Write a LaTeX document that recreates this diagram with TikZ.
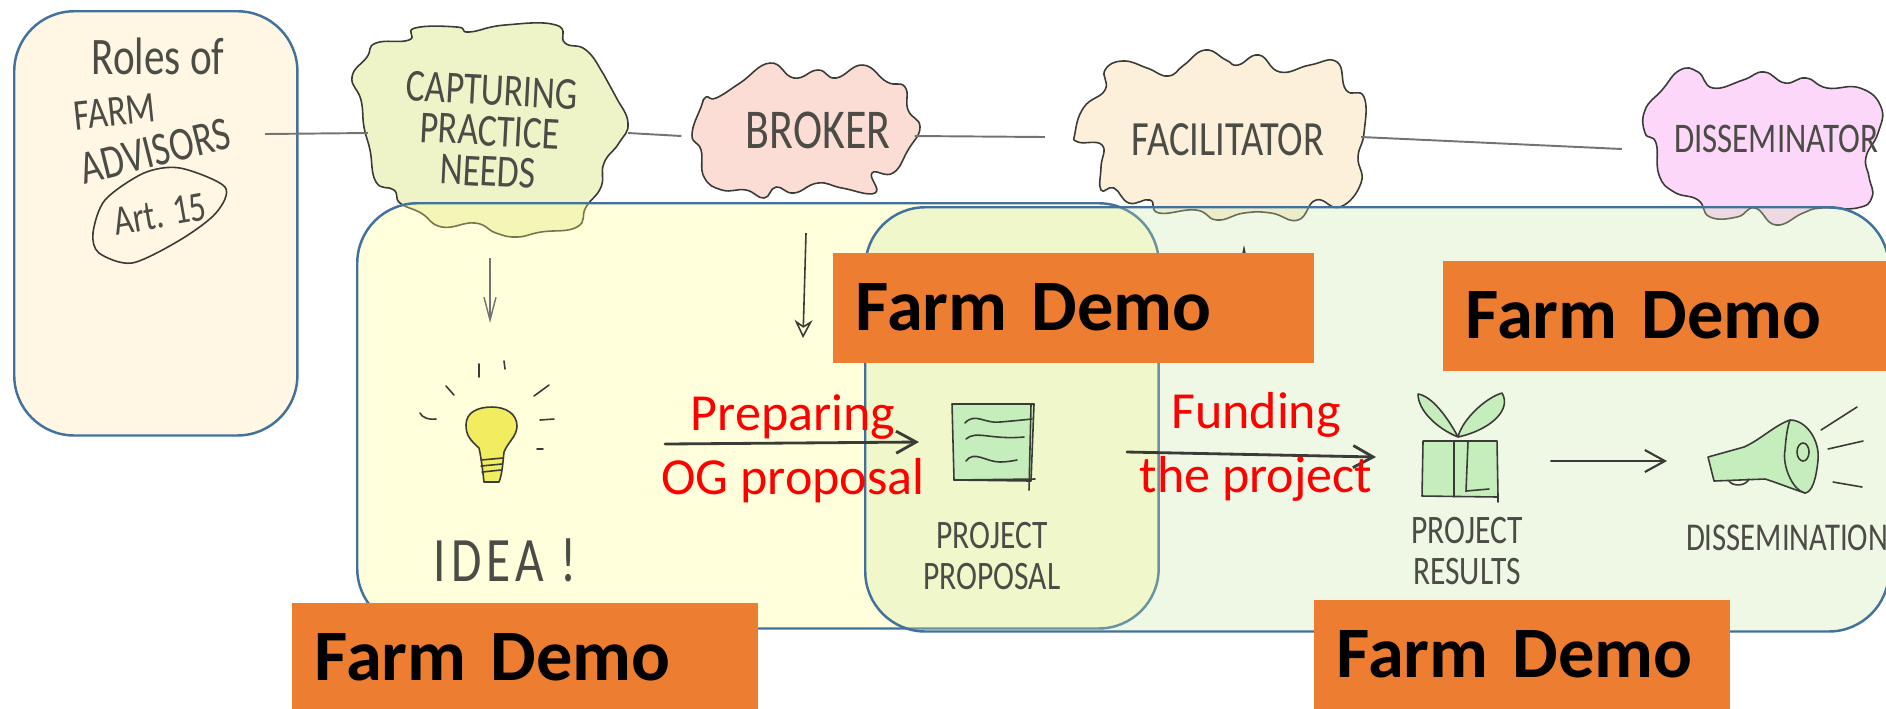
\documentclass[tikz,border=0pt]{standalone}
\usepackage{fontspec}
\setmainfont{Carlito}
\newfontfamily\handfont[FakeStretch=0.78]{Carlito}
\usetikzlibrary{arrows.meta}
\definecolor{panelline}{HTML}{41719C}
\definecolor{rolesfill}{HTML}{FFF6E3}
\definecolor{ideafill}{HTML}{FFFF87}
\definecolor{projectfill}{HTML}{CAE4A8}
\definecolor{capturefill}{HTML}{EEF3C8}
\definecolor{brokerfill}{HTML}{FBDDD5}
\definecolor{facilfill}{HTML}{FCF0DA}
\definecolor{dissemfill}{HTML}{FCD7F9}
\definecolor{demofill}{HTML}{ED7D31}
\definecolor{sketchgreen}{HTML}{C6EDBC}
\definecolor{bulbfill}{HTML}{F2EC60}
\definecolor{inkgray}{HTML}{3A3A36}
\definecolor{handgray}{HTML}{4C4C46}
\begin{document}
\begin{tikzpicture}[
        x=0.01cm, y=-0.01cm, % one unit is one pixel of the reference
        panel/.style = {draw=panelline, line width=.7pt, rounded corners=.6cm, anchor=north west, inner sep=0pt, fill opacity=.3}, % Rounded panels
        spot/.style = {minimum width=#1, minimum height=.1cm, inner sep=0pt, outer sep=0pt}, % Where the lines meet a cloud
        puff/.style = {draw=inkgray, line width=.45pt, line join=round}, % Clouds
        ink/.style = {draw=inkgray, line width=.45pt, line cap=round},
        hand/.style = {font=\handfont\fontsize{#1}{#1}\selectfont, text=handgray, align=center, inner sep=0pt},
        hand/.default = 13,
        link/.style = {draw=black!55, line width=.55pt},
        vtip/.style = {-{Straight Barb[length=.2cm, width=.22cm]}, draw=inkgray, line width=.6pt, line cap=round},
        demo/.style = {fill=demofill, text width=#1, inner xsep=.23cm, minimum height=1.1cm, anchor=north west, align=left, text=black, font=\fontsize{20.6}{21}\bfseries\selectfont},
        step label/.style = {text=red, align=center, inner sep=0pt, font=\fontsize{14.8}{18.2}\selectfont},
    ]
    \useasboundingbox (0,0) rectangle (1886,708);

    \node[panel, fill=rolesfill, fill opacity=1, minimum width=2.83cm, minimum height=4.24cm] (roles) at (13,10) {};
    \node[hand=15] (rolestext) at (158,56) {Roles of};
    \node[hand=12.5, rotate=6] (farm) at (115,112) {FARM};
    \node[hand=13.5, rotate=14] (advisors) at (155,151) {ADVISORS};
    \draw[ink] plot[smooth cycle] coordinates {(93,233) (105,200) (144,173) (180,168) (225,187) (216,213) (180,240) (132,263) (99,253)};
    \node[hand=12, rotate=10] (article) at (160,214) {Art. 15};

    % The clouds
    \draw[puff, fill=capturefill] plot[smooth cycle, tension=.8] coordinates {(352,77) (367,57) (376,43) (409,40) (415,28) (457,27) (469,32) (505,25) (556,25) (565,43) (586,50) (604,75) (616,97) (628,123) (619,143) (604,163) (601,187) (586,207) (577,227) (541,232) (517,237) (496,233) (475,223) (442,227) (421,213) (400,203) (394,190) (376,182) (370,150) (364,127) (361,100)};
    \draw[puff, fill=brokerfill] plot[smooth cycle, tension=.8] coordinates {(706,97) (716,98) (740,83) (770,63) (794,78) (818,70) (836,78) (863,65) (887,82) (905,87) (908,110) (920,127) (908,150) (893,173) (872,173) (875,193) (842,188) (818,183) (794,193) (776,187) (764,198) (746,190) (722,190) (704,177) (701,150) (692,135) (701,107)};
    \draw[puff, fill=facilfill] plot[smooth cycle, tension=.8] coordinates {(1075,133) (1084,107) (1105,90) (1105,70) (1123,61) (1147,68) (1168,76) (1184,65) (1205,50) (1226,60) (1238,65) (1259,55) (1280,72) (1310,65) (1337,62) (1346,90) (1364,97) (1364,133) (1358,157) (1361,183) (1340,207) (1316,200) (1298,220) (1271,213) (1244,213) (1217,220) (1196,210) (1159,213) (1150,200) (1129,203) (1114,188) (1101,190) (1101,167) (1102,145) (1078,142)};
    \draw[puff, fill=dissemfill] plot[smooth cycle, tension=.8] coordinates {(1645,110) (1662,90) (1680,70) (1698,72) (1713,88) (1743,80) (1764,72) (1785,83) (1806,78) (1827,88) (1860,88) (1881,107) (1878,133) (1866,157) (1869,177) (1872,197) (1857,208) (1821,208) (1803,213) (1776,225) (1755,208) (1737,217) (1710,217) (1698,200) (1674,192) (1659,175) (1656,143) (1645,133)};

    \node[hand=13, rotate=-3] (capturingtext) at (490,131) {CAPTURING\\[-.05cm]PRACTICE\\[-.05cm]NEEDS};
    \node[hand=16] (brokertext) at (818,130) {BROKER};
    \node[hand=14] (facilitatortext) at (1228,140) {FACILITATOR};
    \node[hand=12] (disseminatortext) at (1776,139) {DISSEMINATOR};

    \coordinate (rolesout) at (265,134);
    \node[spot=2.6cm] (capturing) at (498,133) {};
    \node[spot=2.33cm] (broker) at (798,136) {};
    \node[spot=3.16cm] (facilitator) at (1203,137) {};
    \node[spot=2.82cm] (disseminator) at (1763,149) {};
    \draw[link] (rolesout) -- (capturing.west);
    \draw[link] (capturing.east) -- (broker.west);
    \draw[link] (broker.east) -- (facilitator.west);
    \draw[link] (facilitator.east) -- (disseminator.west);

    % The panels, each of them shows through
    \node[panel, fill=ideafill, minimum width=8.01cm, minimum height=4.25cm] (ideapanel) at (356,202) {};
    \node[panel, fill=projectfill, minimum width=10.23cm, minimum height=4.24cm] (projectpanel) at (864,206) {};

    \coordinate (needsout) at (490,258);
    \coordinate (needsin) at (490,323);
    \coordinate (brokerout) at (806,233);
    \coordinate (brokerin) at (803,338);
    \coordinate (factail) at (1244,300);
    \coordinate (fachead) at (1244,245);
    \draw[-{Straight Barb[length=.23cm, width=.12cm]}, draw=black!55, line width=.4pt] (needsout) -- (needsin);
    \draw[-{Stealth[open, length=.18cm, width=.18cm]}, draw=inkgray, line width=.45pt] (brokerout) -- (brokerin);
    \draw[-{Stealth[length=.14cm, width=.06cm]}, draw=inkgray, line width=.5pt] (factail) -- (fachead);

    % The bulb
    \draw[puff, fill=bulbfill] (484,482) .. controls (482,465) and (481,457) .. (479,448) .. controls (470,440) and (466,435) .. (466,425) .. controls (466,412) and (478,407) .. (492,407) .. controls (506,407) and (517,414) .. (517,426) .. controls (517,436) and (508,442) .. (504,452) .. controls (503,462) and (502,475) .. (499,482) -- cycle;
    \draw[ink] (481,460) -- (503,458) (481,466) -- (502,464) (482,472) -- (501,470);
    \draw[ink] (479,364) -- (479,377) (504,361) -- (505,369) (446,386) -- (454,395) (534,396) -- (549,385) (420,413) .. controls (422,418) and (430,420) .. (436,419) (540,420) -- (554,419) (537,449) -- (543,449);
    \node[hand=18] (idea) at (505,560) {\addfontfeature{LetterSpace=8}IDEA !};

    % The proposal sheet
    \draw[puff, fill=sketchgreen] (952,404) -- (1034,404) -- (1031,481) -- (954,480) -- cycle;
    \draw[ink] (1031,404) -- (1029,490) (954,480) -- (1035,479);
    \draw[ink] (965,423) .. controls (975,412) and (985,424) .. (1000,422) .. controls (1012,421) and (1022,420) .. (1032,419);
    \draw[ink] (966,439) .. controls (976,430) and (990,440) .. (1024,437);
    \draw[ink] (966,461) .. controls (974,450) and (986,462) .. (1000,462) .. controls (1006,462) and (1012,461) .. (1017,460);
    \node[hand=11.5] (proposaltext) at (992,556) {PROJECT\\PROPOSAL};

    % The gift
    \draw[puff, fill=sketchgreen] (1423,441) -- (1497,441) -- (1498,497) -- (1422,496) -- cycle;
    \draw[puff, fill=sketchgreen] (1458,437) .. controls (1436,428) and (1418,410) .. (1418,394) .. controls (1432,396) and (1448,418) .. (1458,437);
    \draw[puff, fill=sketchgreen] (1458,437) .. controls (1462,420) and (1485,398) .. (1502,393) .. controls (1512,410) and (1490,430) .. (1458,437);
    \draw[ink] (1454,441) -- (1454,497) (1468,441) -- (1466,491) -- (1489,489) (1498,497) -- (1498,502);
    \node[hand=11.5] (resultstext) at (1467,551) {PROJECT\\RESULTS};

    % The horn
    \draw[puff, fill=sketchgreen] (1708,457) -- (1744,447) .. controls (1760,440) and (1775,425) .. (1790,420) -- (1805,493) .. controls (1790,488) and (1775,482) .. (1765,479) -- (1714,481) -- cycle;
    \draw[puff, fill=sketchgreen] (1790,420) .. controls (1806,420) and (1820,440) .. (1818,460) .. controls (1816,480) and (1812,492) .. (1805,493) .. controls (1792,490) and (1782,465) .. (1785,450) .. controls (1786,435) and (1788,425) .. (1790,420);
    \draw[ink] (1803,452) ellipse (6 and 9);
    \draw[ink] (1729,481) .. controls (1733,487) and (1746,486) .. (1749,479);
    \draw[ink] (1821,430) -- (1857,407) (1828,449) -- (1863,441) (1833,482) -- (1862,487);
    \node[hand=11.2] (disseminationtext) at (1787,538) {DISSEMINATION};

    % The steps between the sketches
    \coordinate (bulbout) at (665,444);
    \coordinate (sheetin) at (919,442);
    \coordinate (sheetout) at (1127,452);
    \coordinate (giftin) at (1376,457);
    \coordinate (giftout) at (1551,461);
    \coordinate (hornin) at (1667,461);
    \draw[vtip, line width=.8pt] (bulbout) -- (sheetin);
    \draw[vtip, line width=.8pt] (sheetout) -- (giftin);
    \draw[vtip] (giftout) -- (hornin);

    \node[step label] (preparing) at (793,449) {Preparing\\OG proposal};
    \node[step label] (funding) at (1256,447) {Funding\\the project};

    \node[demo=4.35cm] (demotop) at (832,252) {Farm Demo};
    \node[demo=3.98cm] (demoright) at (1442,260) {Farm Demo};
    \node[demo=4.2cm] (demoleft) at (291,602) {Farm Demo};
    \node[demo=3.7cm] (demobottom) at (1313,599) {Farm Demo};
\end{tikzpicture}
\end{document}
